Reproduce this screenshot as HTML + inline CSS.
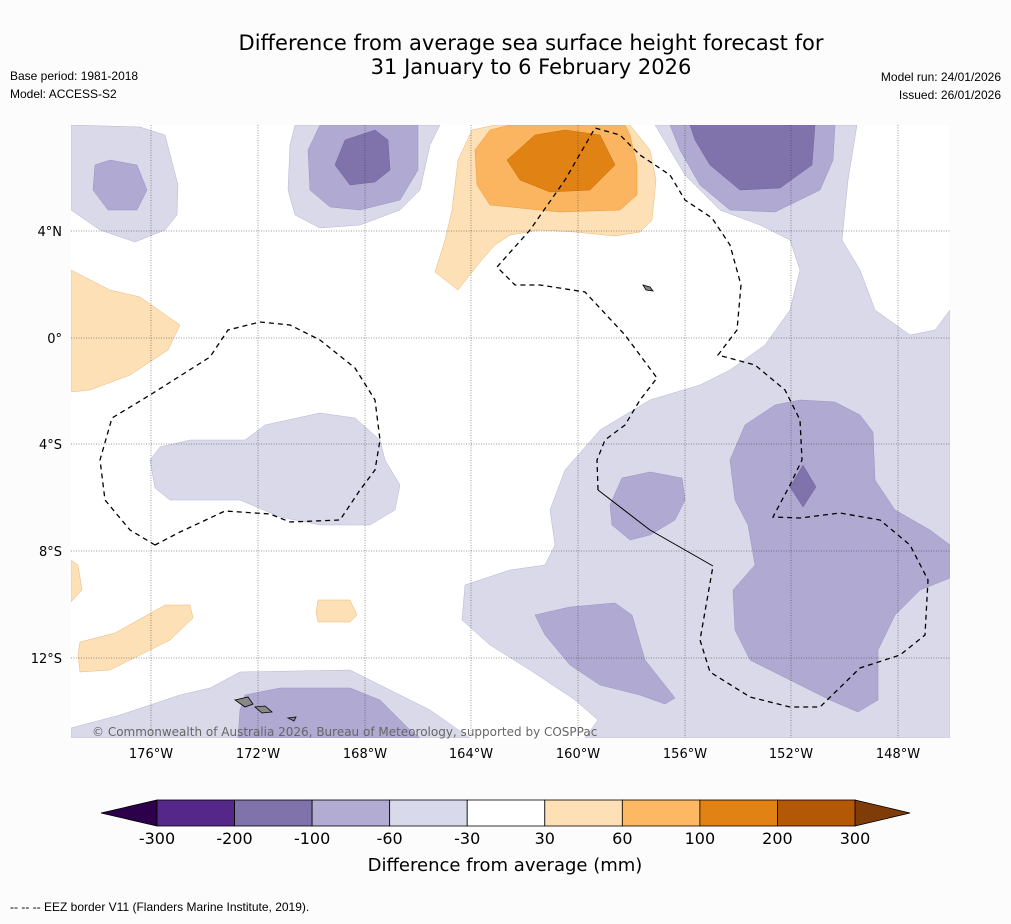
<!DOCTYPE html>
<html><head><meta charset="utf-8"><style>
body{margin:0;background:#fcfcfc;font-family:"Liberation Sans","DejaVu Sans",sans-serif;}
svg text{font-family:"DejaVu Sans","Liberation Sans",sans-serif;}
svg text.ls{font-family:"Liberation Sans","DejaVu Sans",sans-serif;}
</style></head><body>
<svg width="1011" height="919" viewBox="0 0 1011 919">
<rect width="1011" height="919" fill="#fcfcfc"/>
<text x="531" y="50" font-size="21" text-anchor="middle">Difference from average sea surface height forecast for</text>
<text x="531" y="74" font-size="21" text-anchor="middle">31 January to 6 February 2026</text>
<text class="ls" x="10" y="80" font-size="12">Base period: 1981-2018</text>
<text class="ls" x="10" y="98" font-size="12">Model: ACCESS-S2</text>
<text class="ls" x="1001" y="81" font-size="12" text-anchor="end">Model run: 24/01/2026</text>
<text class="ls" x="1001" y="99" font-size="12" text-anchor="end">Issued: 26/01/2026</text>

<g>
<clipPath id="mc"><rect x="71" y="125" width="879" height="613"/></clipPath>
<rect x="71" y="125" width="879" height="613" fill="#fff"/>
<g clip-path="url(#mc)" stroke-width="0.5">
<g fill="#d9d9ea" stroke="#b8b4d4">
<polygon points="71,125 140,127 165,135 178,185 177,215 165,230 135,242 100,230 71,210"/>
<polygon points="295,125 440,125 430,145 420,190 400,210 360,225 320,228 295,215 288,190 290,145"/>
<polygon points="655,125 857,125 848,180 842,240 860,270 875,310 910,335 935,330 950,310 950,738 585,738 598,720 575,700 530,670 490,645 462,620 465,585 510,570 545,565 555,545 550,510 565,470 600,430 650,400 700,385 730,370 765,345 790,310 800,270 790,240 760,225 720,210 685,175"/>
<polygon points="150,460 160,447 190,440 245,440 265,425 320,413 355,418 380,440 385,460 400,485 395,510 370,525 320,525 280,517 240,500 200,500 170,500 155,488"/>
<polygon points="71,738 71,728 120,715 180,695 210,688 240,672 350,670 390,690 430,710 470,738"/>
</g>
<g fill="#b0a9d1" stroke="#9a92c3">
<polygon points="95,165 110,160 137,165 147,190 137,210 108,210 93,190"/>
<polygon points="320,125 418,125 418,170 400,200 360,210 330,207 310,190 308,150"/>
<polygon points="670,125 835,125 833,160 820,190 775,212 730,210 700,185 680,150"/>
<polygon points="800,400 835,402 860,415 873,432 875,480 895,510 930,530 950,545 950,578 920,590 895,615 878,650 878,700 858,712 830,700 790,680 750,660 735,630 733,590 755,565 748,525 735,500 730,460 745,425 775,405"/>
<polygon points="622,478 650,472 682,478 685,500 675,520 650,535 630,540 612,525 610,505"/>
<polygon points="535,615 570,607 615,603 632,615 645,660 675,698 665,704 640,695 600,685 570,665 545,635"/>
<polygon points="245,695 280,688 350,688 380,700 410,730 420,738 238,738 240,710"/>
</g>
<g fill="#8073ab" stroke="#6f62a0">
<polygon points="345,140 375,130 388,140 390,170 375,182 350,185 335,165"/>
<polygon points="690,125 815,125 812,165 780,188 740,190 710,165 695,140"/>
<polygon points="803,465 816,487 803,507 790,487"/>
</g>
<g fill="#fde0b6" stroke="#e9b77a">
<polygon points="472,130 495,125 630,125 650,150 656,180 652,220 640,232 615,236 575,232 540,230 510,235 495,245 480,262 458,290 435,272 445,240 452,210 458,160"/>
<polygon points="71,270 110,290 140,297 180,325 168,350 130,375 90,390 71,392"/>
<polygon points="71,560 78,565 82,590 71,602"/>
<polygon points="318,600 350,600 357,615 350,622 318,622 316,612"/>
<polygon points="80,642 115,633 165,605 190,605 193,618 170,640 140,655 110,670 80,672 78,655"/>
</g>
<g fill="#fbb560" stroke="#e99a3a">
<polygon points="490,130 510,125 625,125 630,135 637,165 637,195 620,210 560,212 520,208 490,205 477,185 475,150"/>
</g>
<g fill="#e08214" stroke="#c86f0e">
<polygon points="507,160 535,135 565,130 600,135 615,165 590,190 550,192 520,180"/>
</g>
<g stroke="#333" stroke-width="0.5" stroke-dasharray="1,1.5">
<line x1="151" y1="125" x2="151" y2="738"/><line x1="258" y1="125" x2="258" y2="738"/><line x1="365" y1="125" x2="365" y2="738"/><line x1="471" y1="125" x2="471" y2="738"/><line x1="578" y1="125" x2="578" y2="738"/><line x1="685" y1="125" x2="685" y2="738"/><line x1="791" y1="125" x2="791" y2="738"/><line x1="898" y1="125" x2="898" y2="738"/>
<line x1="71" y1="231" x2="950" y2="231"/><line x1="71" y1="338" x2="950" y2="338"/><line x1="71" y1="444" x2="950" y2="444"/><line x1="71" y1="551" x2="950" y2="551"/><line x1="71" y1="658" x2="950" y2="658"/>
</g>
<g fill="none" stroke="#000" stroke-width="1.3" stroke-dasharray="5,4">
<polyline points="155,545 130,530 105,500 100,460 112,418 150,395 210,357 228,330 260,322 290,325 320,340 355,368 375,400 380,440 375,470 360,490 340,520 290,522 270,514 225,511 180,532 155,545"/>
<polyline points="598,490 597,460 605,440 625,425 640,400 657,378 625,335 585,292 540,285 515,285 497,267 530,230 565,180 595,128 620,135 640,155 670,175 685,200 712,218 730,245 741,285 737,330 718,355 755,365 785,390 800,420 802,460 790,485 773,517 800,518 840,513 880,520 910,545 928,580 925,635 900,655 860,668 820,707 790,707 750,697 710,672 700,640 713,566"/>
</g>
<polyline points="598,490 650,530 713,566" fill="none" stroke="#000" stroke-width="1"/>
<g fill="#888" stroke="#000" stroke-width="0.8">
<polygon points="235,700 248,697 253,704 245,707"/><polygon points="255,707 265,706 272,712 262,713"/>
<polygon points="288,718 296,717 294,721"/><polygon points="643,285 650,287 653,291 646,290"/>
</g>
</g>
<text x="92" y="736" font-size="12" fill="#666">© Commonwealth of Australia 2026, Bureau of Meteorology, supported by COSPPac</text>
</g>
<g font-size="13" fill="#000">
<text x="62" y="236" text-anchor="end">4°N</text><text x="62" y="343" text-anchor="end">0°</text><text x="62" y="449" text-anchor="end">4°S</text><text x="62" y="556" text-anchor="end">8°S</text><text x="62" y="663" text-anchor="end">12°S</text>
</g>
<g font-size="13" fill="#000" text-anchor="middle">
<text x="151" y="758">176°W</text><text x="258" y="758">172°W</text><text x="365" y="758">168°W</text><text x="471" y="758">164°W</text><text x="578" y="758">160°W</text><text x="685" y="758">156°W</text><text x="791" y="758">152°W</text><text x="898" y="758">148°W</text>
</g>
<g id="cb"></g>
<text x="505" y="871" font-size="18" text-anchor="middle">Difference from average (mm)</text>
<text class="ls" x="10" y="911" font-size="12">-- -- -- EEZ border V11 (Flanders Marine Institute, 2019).</text>
</svg>
<script>
const cbColors=["#542788","#8073ac","#b2abd2","#d8daeb","#ffffff","#fee0b6","#fdb863","#e08214","#b35806"];
const cbTicks=["-300","-200","-100","-60","-30","30","60","100","200","300"];
const NS="http://www.w3.org/2000/svg";
const g=document.getElementById('cb');
const x0=157,x1=855,y0=800,h=26,w=(x1-x0)/cbColors.length;
let lt=document.createElementNS(NS,'polygon');
lt.setAttribute('points',`101,${y0+h/2} ${x0},${y0} ${x0},${y0+h}`);
lt.setAttribute('fill','#2d004b');lt.setAttribute('stroke','#000');lt.setAttribute('stroke-width','0.8');


g.appendChild(lt);
let rt=document.createElementNS(NS,'polygon');
rt.setAttribute('points',`910,${y0+h/2} ${x1},${y0} ${x1},${y0+h}`);
rt.setAttribute('fill','#7f3b08');rt.setAttribute('stroke','#000');rt.setAttribute('stroke-width','0.8');


g.appendChild(rt);
cbColors.forEach((c,i)=>{
 const r=document.createElementNS(NS,'rect');
 r.setAttribute('x',x0+i*w);r.setAttribute('y',y0);r.setAttribute('width',w);r.setAttribute('height',h);
 r.setAttribute('fill',c);r.setAttribute('stroke','#000');r.setAttribute('stroke-width','0.8');
 
 
 g.appendChild(r);
});
cbTicks.forEach((t,i)=>{
 const tx=document.createElementNS(NS,'text');
 tx.setAttribute('x',x0+i*w);tx.setAttribute('y',844);tx.setAttribute('font-size','16');tx.setAttribute('text-anchor','middle');
 tx.textContent=t;
 
 
 g.appendChild(tx);
});
</script>
</body></html>
